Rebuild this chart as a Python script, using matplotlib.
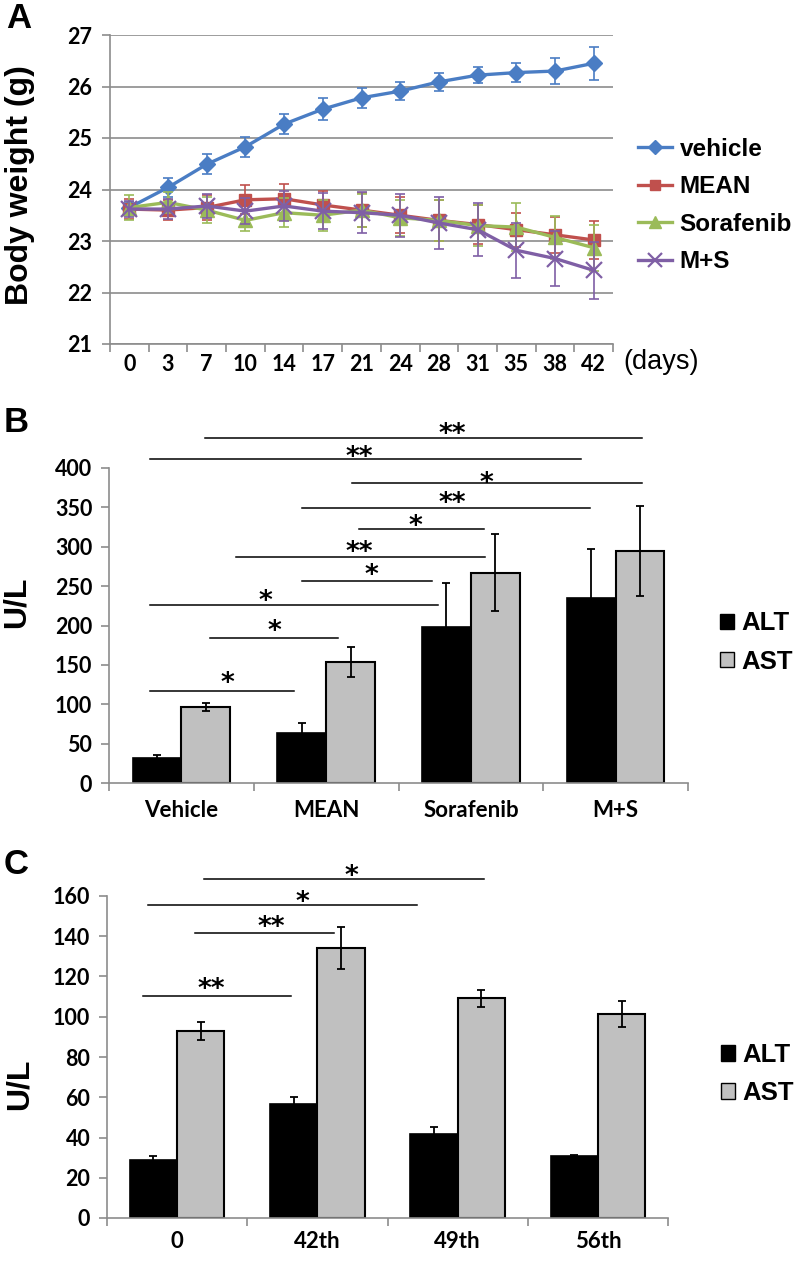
import matplotlib
matplotlib.use('Agg')
import matplotlib.pyplot as plt
from matplotlib.patches import Patch
import numpy as np

plt.rcParams['font.family'] = ['Lato', 'DejaVu Sans']
plt.rcParams['font.weight'] = 'bold'

# ---- panel A: body weight ----
days = ['0', '3', '7', '10', '14', '17', '21', '24', '28', '31', '35', '38', '42']
vehicle = [23.65, 24.04, 24.49, 24.83, 25.27, 25.56, 25.78, 25.91, 26.09, 26.22, 26.27, 26.30, 26.45]
vehicle_err = [0.10, 0.18, 0.19, 0.19, 0.20, 0.21, 0.20, 0.18, 0.17, 0.15, 0.18, 0.25, 0.32]
mean = [23.62, 23.60, 23.65, 23.80, 23.82, 23.70, 23.60, 23.50, 23.40, 23.32, 23.22, 23.12, 23.02]
mean_err = [0.20, 0.20, 0.25, 0.28, 0.28, 0.28, 0.33, 0.35, 0.40, 0.38, 0.33, 0.35, 0.37]
sorafenib = [23.65, 23.75, 23.60, 23.40, 23.55, 23.50, 23.60, 23.45, 23.40, 23.30, 23.27, 23.07, 22.87]
sorafenib_err = [0.24, 0.20, 0.25, 0.20, 0.28, 0.30, 0.32, 0.35, 0.40, 0.40, 0.47, 0.42, 0.45]
ms = [23.62, 23.62, 23.68, 23.58, 23.68, 23.58, 23.55, 23.50, 23.35, 23.22, 22.82, 22.66, 22.43]
ms_err = [0.15, 0.20, 0.23, 0.25, 0.30, 0.35, 0.40, 0.42, 0.50, 0.52, 0.53, 0.53, 0.56]

series_names = ['vehicle', 'MEAN', 'Sorafenib', 'M+S']
series_colors = ['#4A7DC4', '#C0504D', '#9BBB59', '#7F5FA5']
series_markers = ['D', 's', '^', 'x']

# ---- panel B: ALT / AST per treatment ----
groups_b = ['Vehicle', 'MEAN', 'Sorafenib', 'M+S']
alt_b = [32, 64, 198.5, 235]
alt_b_err = [3, 12.6, 55, 62]
ast_b = [97, 154, 267, 295]
ast_b_err = [5, 19, 49, 57]
# significance bars: (x start, x end, y), marks and mark positions
sig_b_lines = [(0.16, 3.18, 438.5), (-0.22, 2.76, 411), (1.18, 3.18, 381),
               (0.83, 2.82, 349), (1.23, 2.09, 322.5), (0.38, 2.10, 287),
               (0.83, 1.73, 256.5), (-0.22, 1.77, 226), (0.20, 1.08, 184),
               (-0.22, 0.78, 117)]
sig_b_marks = ['**', '**', '*', '**', '*', '**', '*', '*', '*', '*']
sig_b_pos = [(1.87, 451), (1.23, 421.6), (2.11, 388.6), (1.87, 363), (1.62, 334),
             (1.23, 301), (1.31, 271.7), (0.58, 238.7), (0.64, 200.6), (0.32, 134.6)]

# ---- panel C: ALT / AST over time ----
groups_c = ['0', '42th', '49th', '56th']
alt_c = [29, 56.6, 41.7, 31]
alt_c_err = [2, 3.7, 3.7, 0.5]
ast_c = [92.8, 134, 109.2, 101.4]
ast_c_err = [4.4, 10.4, 4.3, 6.5]
sig_c_lines = [(0.19, 2.19, 168.4), (-0.21, 1.71, 155.5), (0.13, 1.12, 141.6), (-0.24, 0.81, 110.3)]
sig_c_marks = ['*', '*', '**', '**']
sig_c_pos = [(1.24, 172.9), (0.89, 160), (0.67, 147.6), (0.24, 116.8)]

W, H = 800, 1264
GREY = '#8c8c8c'
ARIAL = 'Liberation Sans'

fig = plt.figure(figsize=(W / 100, H / 100), dpi=100)


def px_axes(left, top, right, bottom):
    return fig.add_axes([left / W, 1 - bottom / H, (right - left) / W, (bottom - top) / H])


def style_axes(ax, n):
    for s in ['top', 'right']:
        ax.spines[s].set_visible(False)
    for s in ['left', 'bottom']:
        ax.spines[s].set_color(GREY)
        ax.spines[s].set_linewidth(1.2)
    ax.set_xlim(-0.5, n - 0.5)
    ax.set_xticks(np.arange(-0.5, n, 1), minor=True)
    ax.tick_params(axis='x', which='minor', length=6, width=1.2, color=GREY, direction='out')
    ax.tick_params(axis='x', which='major', length=0)
    ax.tick_params(axis='y', which='major', length=6, width=1.2, color=GREY, direction='out')


# panel A
axA = px_axes(110, 35, 613, 344)
style_axes(axA, len(days))
x = np.arange(len(days))
all_vals = [vehicle, mean, sorafenib, ms]
all_errs = [vehicle_err, mean_err, sorafenib_err, ms_err]
mk_sizes = {'D': 8, 's': 9, '^': 10, 'x': 12}
handles = []
for vals, errs, name, col, mk in zip(all_vals, all_errs, series_names, series_colors, series_markers):
    axA.errorbar(x, vals, yerr=errs, fmt='none', ecolor=col, elinewidth=1.2, capsize=3.5, capthick=1.2)
    ln, = axA.plot(x, vals, color=col, lw=2.4, marker=mk, ms=mk_sizes[mk],
                   mew=1.6 if mk == 'x' else 1, mec=col, label=name)
    handles.append(ln)
axA.set_ylim(21, 27)
axA.set_yticks(range(21, 28))
axA.yaxis.grid(True, color=GREY, lw=1.2)
axA.set_axisbelow(True)
axA.set_xticks(x)
axA.set_xticklabels(days)
axA.tick_params(axis='x', labelsize=15.5, pad=7)
axA.tick_params(axis='y', labelsize=15.5, pad=7)
axA.legend(handles=handles, loc='center left', bbox_to_anchor=(1.05, 0.448),
           frameon=False, borderpad=0, borderaxespad=0, handlelength=1.4,
           handletextpad=0.3, labelspacing=0.6, markerscale=0.85,
           prop={'family': ARIAL, 'weight': 'bold', 'size': 17.5})
fig.text(661 / W, 1 - 362 / H, '(days)', family=ARIAL, weight='normal', fontsize=19.5,
         ha='center', va='center')
fig.text(20 / W, 1 - 185 / H, 'Body weight (g)', family=ARIAL, weight='bold', fontsize=23,
         rotation=90, ha='center', va='center')
fig.text(19 / W, 1 - 19 / H, 'A', family=ARIAL, weight='bold', fontsize=25, ha='center', va='center')


def bar_panel(ax, groups, alt, alt_err, ast, ast_err, ymax, step, lines, marks, pos, leg_xy, pad):
    style_axes(ax, len(groups))
    xg = np.arange(len(groups))
    bw = 0.337
    ax.bar(xg - bw / 2, alt, bw, color='black', edgecolor='black', lw=1.2, zorder=2)
    ax.bar(xg + bw / 2, ast, bw, color='#C0C0C0', edgecolor='black', lw=1.5, zorder=2)
    ax.errorbar(xg - bw / 2, alt, yerr=alt_err, fmt='none', ecolor='black', elinewidth=1.3,
                capsize=3, capthick=1.3, zorder=3)
    ax.errorbar(xg + bw / 2, ast, yerr=ast_err, fmt='none', ecolor='black', elinewidth=1.3,
                capsize=3, capthick=1.3, zorder=3)
    ax.set_ylim(0, ymax)
    ax.set_yticks(np.arange(0, ymax + 1, step))
    ax.set_xticks(xg)
    ax.set_xticklabels(groups)
    ax.tick_params(axis='x', labelsize=16, pad=pad)
    ax.tick_params(axis='y', labelsize=15.5, pad=6)
    for (x1, x2, y), m, (tx, ty) in zip(lines, marks, pos):
        ax.plot([x1, x2], [y, y], color='black', lw=1.1, clip_on=False)
        ax.annotate(m, xy=(tx, ty), xytext=(0, -5), textcoords='offset points',
                    ha='center', va='center', family='DejaVu Sans', weight='bold',
                    fontsize=19, annotation_clip=False)
    leg = [Patch(facecolor='black', edgecolor='black', label='ALT'),
           Patch(facecolor='#C0C0C0', edgecolor='black', label='AST')]
    ax.legend(handles=leg, loc='center left', bbox_to_anchor=leg_xy, frameon=False,
              borderpad=0, borderaxespad=0, handlelength=0.55, handleheight=0.55,
              handletextpad=0.3, labelspacing=0.55,
              prop={'family': ARIAL, 'weight': 'bold', 'size': 18.5})


axB = px_axes(109, 468, 688, 783)
bar_panel(axB, groups_b, alt_b, alt_b_err, ast_b, ast_b_err, 400, 50,
          sig_b_lines, sig_b_marks, sig_b_pos, (1.055, 0.446), 12)
fig.text(17 / W, 1 - 602 / H, 'U/L', family=ARIAL, weight='bold', fontsize=23,
         rotation=90, ha='center', va='center')
fig.text(16 / W, 1 - 423 / H, 'B', family=ARIAL, weight='bold', fontsize=25, ha='center', va='center')

axC = px_axes(107, 896, 668, 1218)
bar_panel(axC, groups_c, alt_c, alt_c_err, ast_c, ast_c_err, 160, 20,
          sig_c_lines, sig_c_marks, sig_c_pos, (1.094, 0.447), 9)
fig.text(19.5 / W, 1 - 1084 / H, 'U/L', family=ARIAL, weight='bold', fontsize=23,
         rotation=90, ha='center', va='center')
fig.text(16 / W, 1 - 865 / H, 'C', family=ARIAL, weight='bold', fontsize=25, ha='center', va='center')

fig.savefig('out.png', dpi=100)
